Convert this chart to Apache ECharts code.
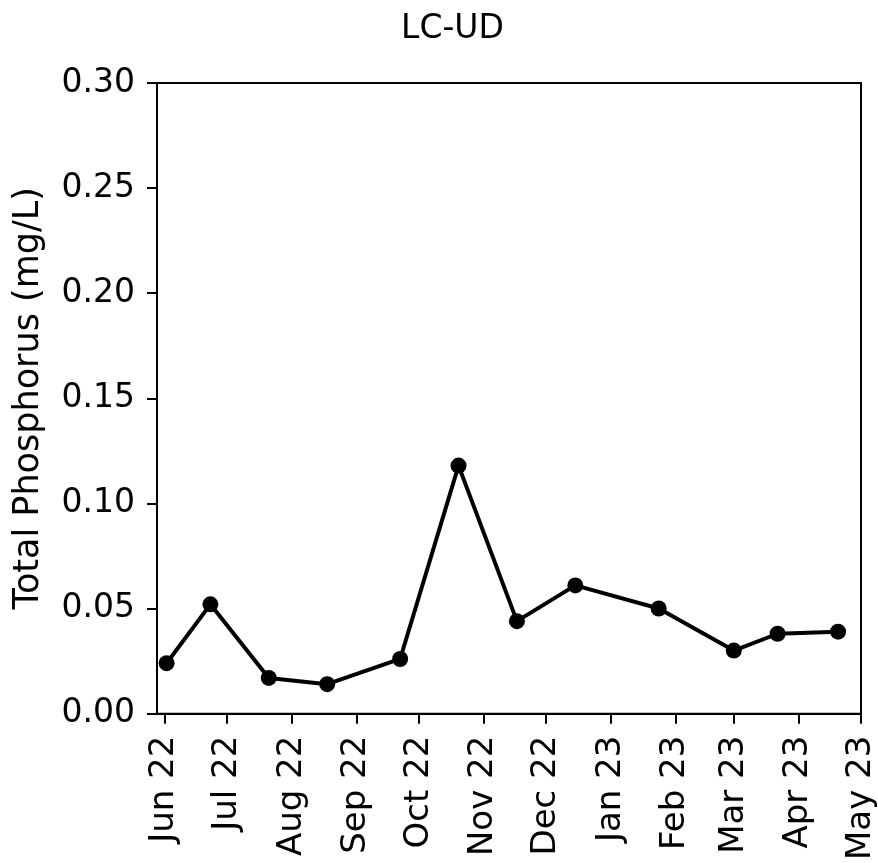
<!DOCTYPE html>
<html>
<head>
<meta charset="utf-8">
<script src="https://cdn.jsdelivr.net/npm/echarts@6/dist/echarts.min.js"></script>
<style>
html,body{margin:0;padding:0;background:#fff;}
#chart{width:878px;height:863px;}
</style>
</head>
<body>
<div id="chart"></div>
<script>
// Data
const sampleDates = [
  [2022, 6, 2], [2022, 6, 23], [2022, 7, 21], [2022, 8, 18], [2022, 9, 22],
  [2022, 10, 20], [2022, 11, 17], [2022, 12, 15], [2023, 1, 24], [2023, 3, 1],
  [2023, 3, 22], [2023, 4, 20]
];
const totalPhosphorus = [0.024, 0.052, 0.017, 0.014, 0.026, 0.118, 0.044, 0.061, 0.050, 0.030, 0.038, 0.039];
const monthTicks = [
  [2022, 6], [2022, 7], [2022, 8], [2022, 9], [2022, 10], [2022, 11],
  [2022, 12], [2023, 1], [2023, 2], [2023, 3], [2023, 4], [2023, 5]
];
const monthNames = ['Jan','Feb','Mar','Apr','May','Jun','Jul','Aug','Sep','Oct','Nov','Dec'];

const DAY = 86400000;
const toTs = d => Date.UTC(d[0], d[1] - 1, d[2] || 1);
const seriesData = sampleDates.map((d, i) => [toTs(d), totalPhosphorus[i]]);
const tickValues = monthTicks.map(toTs);
const xMin = tickValues[0] - 3.6 * DAY;
const xMax = tickValues[tickValues.length - 1];

const font = 'DejaVu Sans';
const chart = echarts.init(document.getElementById('chart'), null, {renderer: 'canvas'});
chart.setOption({
  animation: false,
  backgroundColor: '#fff',
  title: {
    text: 'LC-UD',
    left: 396,
    top: 8,
    textStyle: {fontFamily: font, fontSize: 33, fontWeight: 'normal', color: '#000'}
  },
  grid: {
    left: 157, right: 15, top: 83, bottom: 147,
    show: true, borderColor: '#000', borderWidth: 2, backgroundColor: 'transparent'
  },
  xAxis: {
    type: 'value',
    min: xMin,
    max: xMax,
    axisLine: {show: true, lineStyle: {color: '#000', width: 2}},
    axisTick: {show: true, customValues: tickValues, length: 10, lineStyle: {color: '#000', width: 2}},
    splitLine: {show: false},
    axisLabel: {
      customValues: tickValues,
      rotate: 90,
      margin: 22,
      fontFamily: font,
      fontSize: 34,
      color: '#000',
      hideOverlap: false,
      formatter: function (v) {
        const d = new Date(v);
        return monthNames[d.getUTCMonth()] + ' ' + String(d.getUTCFullYear()).slice(2);
      }
    }
  },
  yAxis: {
    type: 'value',
    min: 0,
    max: 0.3,
    interval: 0.05,
    name: 'Total Phosphorus (mg/L)',
    nameLocation: 'middle',
    nameGap: 111,
    nameTextStyle: {fontFamily: font, fontSize: 35, color: '#000'},
    axisLine: {show: true, lineStyle: {color: '#000', width: 2}},
    axisTick: {show: true, length: 10, lineStyle: {color: '#000', width: 2}},
    splitLine: {show: false},
    axisLabel: {
      margin: 22,
      fontFamily: font,
      fontSize: 33,
      color: '#000',
      formatter: v => v.toFixed(2)
    }
  },
  series: [{
    type: 'line',
    data: seriesData,
    symbol: 'circle',
    symbolSize: 16,
    lineStyle: {color: '#000', width: 4},
    itemStyle: {color: '#000'},
    z: 5
  }]
});
</script>
</body>
</html>
